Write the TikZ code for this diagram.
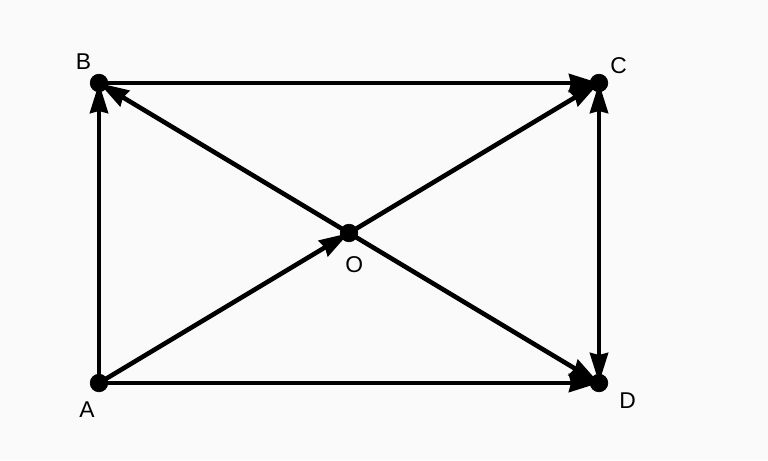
\documentclass[tikz,border=0pt]{standalone}
\usepackage{fontspec}
\setsansfont{Liberation Sans}
\usepackage{tkz-euclide}
\usetikzlibrary{arrows.meta}
\tikzset{>={Stealth[length=6mm,width=3.6mm,inset=0.4mm]}}
\tikzset{vec/.style={line width=2.6pt}, lbl/.style={font=\sffamily\fontsize{13}{15}\selectfont}}

\begin{document}
\begin{tikzpicture}
    \fill[black!2] (-1.98,-1.54) rectangle (13.38,7.66);
    \useasboundingbox (-1.98,-1.54) rectangle (13.38,7.66);
    \tkzDefPoints{0/0/A, 0/6/B, 10/6/C, 10/0/D, 5/3/O}
    \tkzDrawSegments[vec, ->](A,B B,C A,D O,B O,C O,D A,O)
    \tkzDrawSegment[vec, <->](D,C)
    \tkzDrawPoints[size=10, fill=black](A,B,C,D,O)
    \tkzLabelPoint[lbl, above left, xshift=-1pt, yshift=4pt](B){B}
    \tkzLabelPoint[lbl, above right, xshift=3pt, yshift=2pt](C){C}
    \tkzLabelPoint[lbl, below left, xshift=1pt, yshift=-7pt](A){A}
    \tkzLabelPoint[lbl, right, xshift=8pt, yshift=-10pt](D){D}
    \tkzLabelPoint[lbl, below, xshift=3pt, yshift=-10pt](O){O}
\end{tikzpicture}
\end{document}
